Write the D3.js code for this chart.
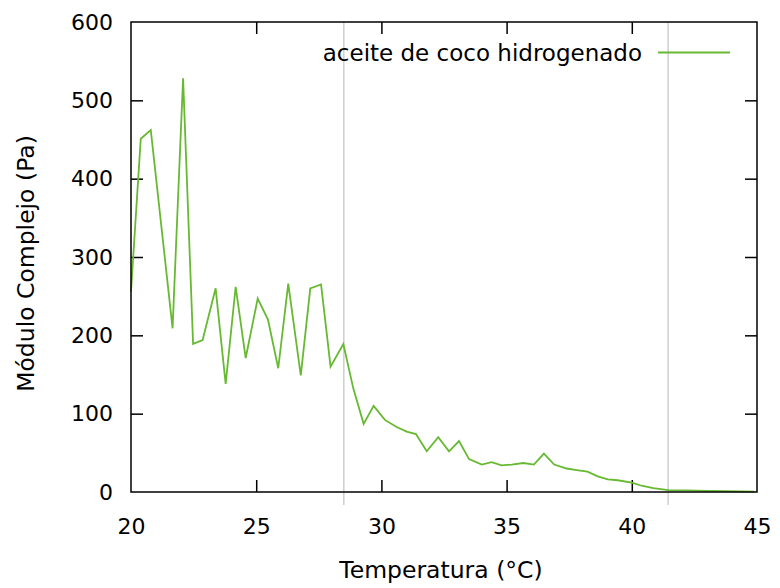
<!DOCTYPE html>
<html>
<head>
<meta charset="utf-8">
<script src="https://cdn.jsdelivr.net/npm/d3@7"></script>
<style>
  html, body { margin: 0; padding: 0; background: #fff; }
  svg text { font-family: "DejaVu Sans", Verdana, sans-serif; fill: #000; }
</style>
</head>
<body>
<svg id="chart" width="780" height="588"></svg>
<script>
// Temperatura (°C)
const temperatura = [20.0, 20.39, 20.79, 21.66, 22.08, 22.48, 22.86, 23.38, 23.78, 24.18,
  24.58, 25.06, 25.47, 25.88, 26.28, 26.78, 27.16, 27.59, 27.97, 28.48,
  28.88, 29.29, 29.69, 30.14, 30.61, 31.01, 31.38, 31.81, 32.27, 32.70,
  33.10, 33.50, 34.01, 34.40, 34.80, 35.20, 35.67, 36.09, 36.49, 36.90,
  37.40, 37.80, 38.23, 38.64, 39.04, 39.44, 40.00, 40.39, 40.86, 41.46,
  42.2, 43.0, 43.8, 44.9];
// Módulo complejo (Pa)
const modulo = [256, 451, 462, 209, 528, 189, 194, 260, 138, 262,
  171, 247, 220, 158, 266, 149, 260, 265, 160, 189,
  132, 87, 110, 92, 83, 77, 74, 52, 70, 52,
  65, 42, 35, 38, 34, 35, 37, 35, 49, 35,
  30, 28, 26, 20, 16, 15, 12, 8, 5, 2.5,
  2, 1.5, 1, 0.5];
const xTicks = [20, 25, 30, 35, 40, 45];
const yTicks = [0, 100, 200, 300, 400, 500, 600];
const marcas = [28.5, 41.45];   // vertical reference lines
const serieNombre = "aceite de coco hidrogenado";

const svg = d3.select("#chart");
const L = 131, R = 757, T = 22, B = 492;
const x = d3.scaleLinear().domain([20, 45]).range([L, R]);
const y = d3.scaleLinear().domain([0, 600]).range([B, T]);
const verde = "#67b932";

// reference lines
svg.selectAll("line.ref").data(marcas).join("line")
  .attr("class", "ref")
  .attr("x1", d => x(d)).attr("x2", d => x(d))
  .attr("y1", T).attr("y2", B + 13)
  .attr("stroke", "#c8c8c8").attr("stroke-width", 1.3);

// axes with inward ticks, mirrored on all sides
const tickLen = 12;
const axB = d3.axisBottom(x).tickValues(xTicks).tickSize(-tickLen).tickPadding(26);
const axT = d3.axisTop(x).tickValues(xTicks).tickSize(-tickLen).tickFormat("");
const axL = d3.axisLeft(y).tickValues(yTicks).tickSize(-tickLen).tickPadding(18);
const axR = d3.axisRight(y).tickValues(yTicks).tickSize(-tickLen).tickFormat("");

function styleAxis(g) {
  g.select(".domain").remove();
  g.selectAll(".tick line").attr("stroke", "#000").attr("stroke-width", 1.5);
  g.selectAll(".tick text").attr("font-size", 22).attr("fill", "#000");
}
svg.append("g").attr("transform", `translate(0,${B})`).call(axB).call(styleAxis);
svg.append("g").attr("transform", `translate(0,${T})`).call(axT).call(styleAxis);
svg.append("g").attr("transform", `translate(${L},0)`).call(axL).call(styleAxis);
svg.append("g").attr("transform", `translate(${R},0)`).call(axR).call(styleAxis);

// hide edge ticks that sit on the frame
svg.selectAll(".tick").filter(d => d === 20 || d === 45 || d === 0 || d === 600)
  .select("line").attr("stroke-opacity", 0);

// data line
const linea = d3.line().x((d, i) => x(temperatura[i])).y(d => y(d));
svg.append("path").datum(modulo)
  .attr("d", linea)
  .attr("fill", "none").attr("stroke", verde).attr("stroke-width", 1.8)
  .attr("stroke-linejoin", "miter");

// frame
svg.append("rect").attr("x", L).attr("y", T).attr("width", R - L).attr("height", B - T)
  .attr("fill", "none").attr("stroke", "#000").attr("stroke-width", 1.5);

// legend
svg.append("text").attr("x", 642).attr("y", 53).attr("dy", "0.35em")
  .attr("text-anchor", "end").attr("font-size", 23).text(serieNombre);
svg.append("line").attr("x1", 658).attr("x2", 730).attr("y1", 52.5).attr("y2", 52.5)
  .attr("stroke", verde).attr("stroke-width", 1.8);

// axis titles
svg.append("text").attr("x", 441).attr("y", 578)
  .attr("text-anchor", "middle").attr("font-size", 23.5).text("Temperatura (°C)");
svg.append("text").attr("transform", `translate(34,263.5) rotate(-90)`)
  .attr("text-anchor", "middle").attr("font-size", 23.5).text("Módulo Complejo (Pa)");
</script>
</body>
</html>
